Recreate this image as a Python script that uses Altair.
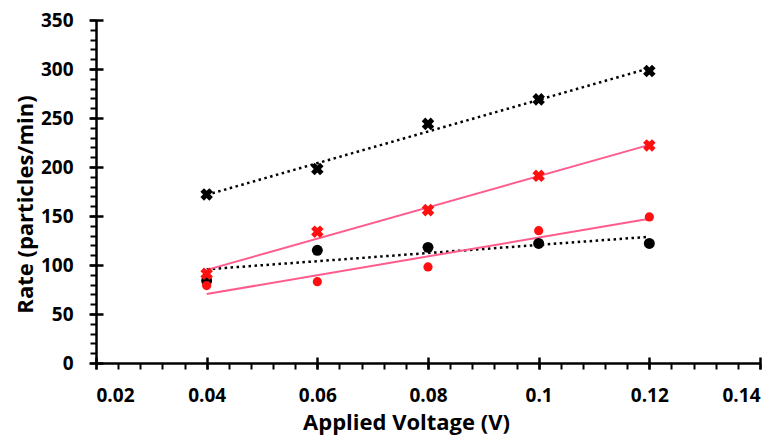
import altair as alt
import pandas as pd

voltage = [0.04, 0.06, 0.08, 0.10, 0.12]
black_x = [172, 198, 244, 269, 298]
red_x = [91, 134, 156, 191, 222]
black_dot = [84, 115, 118, 122, 122]
red_dot = [79, 83, 98, 135, 149]

x_major = [0.02, 0.04, 0.06, 0.08, 0.10, 0.12, 0.14]
x_minor = [round(0.02 + 0.004 * i, 3) for i in range(31)]
y_major = [0, 50, 100, 150, 200, 250, 300, 350]
y_minor = list(range(0, 351, 10))

rows = []
for name, vals, shape, col in [
    ("black_x", black_x, "x", "black"),
    ("red_x", red_x, "x", "red"),
    ("black_dot", black_dot, "dot", "black"),
    ("red_dot", red_dot, "dot", "red"),
]:
    for v, r in zip(voltage, vals):
        rows.append({"v": v, "rate": r, "series": name, "shape": shape, "col": col})
df = pd.DataFrame(rows)

FONT = "Open Sans"
xs = alt.Scale(domain=[0.02, 0.14], nice=False, zero=False)
ys = alt.Scale(domain=[0, 350], nice=False)

x_major_axis = alt.Axis(values=x_major, format="~g", orient="bottom", offset=-6, tickSize=12,
                        tickWidth=2.5, tickColor="black", domain=False, grid=False,
                        labelFont=FONT, labelFontWeight="bold", labelFontSize=19, labelColor="black",
                        labelPadding=17, title="Applied Voltage (V)", titleFont=FONT,
                        titleFontWeight="bold", titleFontSize=22, titleColor="black", titlePadding=7,
                        titleX=310)
x_minor_axis = alt.Axis(values=x_minor, orient="bottom", tickSize=6, tickWidth=2, tickColor="black",
                        domain=True, domainWidth=2.5, domainColor="black", labels=False, title=None, grid=False)
y_major_axis = alt.Axis(values=y_major, orient="left", offset=-7, tickSize=14,
                        tickWidth=2.5, tickColor="black", domain=False, grid=False,
                        labelFont=FONT, labelFontWeight="bold", labelFontSize=19, labelColor="black",
                        labelPadding=16, title="Rate (particles/min)", titleFont=FONT,
                        titleFontWeight="bold", titleFontSize=22, titleColor="black", titlePadding=3,
                        titleY=184)
y_minor_axis = alt.Axis(values=y_minor, orient="left", tickSize=6, tickWidth=2, tickColor="black",
                        domain=True, domainWidth=2.5, domainColor="black", labels=False, title=None, grid=False)

base = alt.Chart(df)

black_lines = base.transform_filter(alt.datum.col == "black").transform_regression(
    "v", "rate", groupby=["series"]
).mark_line(color="black", strokeWidth=2.5, strokeDash=[2.5, 3.5]).encode(
    x=alt.X("v:Q", scale=xs, axis=x_major_axis),
    y=alt.Y("rate:Q", scale=ys, axis=y_major_axis),
    detail="series:N",
)

red_lines = base.transform_filter(alt.datum.col == "red").transform_regression(
    "v", "rate", groupby=["series"]
).mark_line(color="#FF5C8D", strokeWidth=2).encode(
    x=alt.X("v:Q", scale=xs, axis=None),
    y=alt.Y("rate:Q", scale=ys, axis=None),
    detail="series:N",
)

colors = alt.Scale(domain=["black", "red"], range=["black", "#FF1010"])

crosses = base.transform_filter(alt.datum.shape == "x").mark_point(
    shape="cross", angle=45, filled=True, size=160, opacity=1
).encode(
    x=alt.X("v:Q", scale=xs, axis=x_minor_axis),
    y=alt.Y("rate:Q", scale=ys, axis=y_minor_axis),
    color=alt.Color("col:N", scale=colors, legend=None),
)

dots = base.transform_filter(alt.datum.shape == "dot").mark_circle(opacity=1).encode(
    x=alt.X("v:Q", scale=xs, axis=None),
    y=alt.Y("rate:Q", scale=ys, axis=None),
    color=alt.Color("col:N", scale=colors, legend=None),
    size=alt.Size("col:N", scale=alt.Scale(domain=["black", "red"], range=[120, 85]), legend=None),
)

chart = alt.layer(black_lines, red_lines, dots, crosses).resolve_axis(
    x="independent", y="independent"
).properties(
    width=664, height=343, autosize="none",
    padding={"left": 88, "top": 12, "right": 5, "bottom": 72},
).configure_view(stroke=None)

chart.save("out.html", embed_options={"renderer": "svg", "actions": False})
